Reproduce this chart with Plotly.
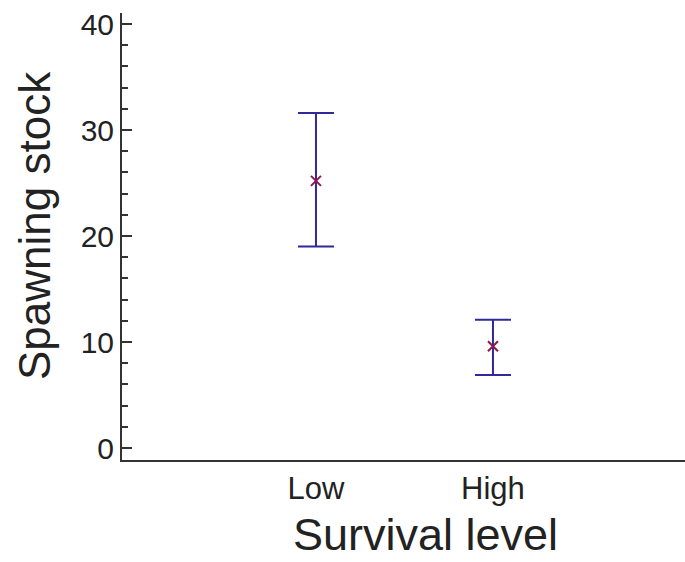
import plotly.graph_objects as go

categories = ["Low", "High"]
means = [25.2, 9.6]
upper = [31.6, 12.1]
lower = [19.0, 6.9]

xpos = [1, 2]
err_plus = [u - m for u, m in zip(upper, means)]
err_minus = [m - l for m, l in zip(means, lower)]

fig = go.Figure()
fig.add_trace(go.Scatter(
    x=xpos, y=means, mode="markers",
    marker=dict(symbol="x-thin", size=10, line=dict(color="#8b1a4a", width=2), color="#8b1a4a"),
    error_y=dict(type="data", symmetric=False, array=err_plus, arrayminus=err_minus,
                 color="#2e2a9c", thickness=2, width=18),
    showlegend=False,
))

W, H = 685, 562
l, r, t, b = 122, 0, 13, 102
pw, ph = W - l - r, H - t - b

def px2paper(x, y):
    return (x - l) / pw, 1 - (y - t) / ph

font_family = "Liberation Sans, Arial, sans-serif"
fig.update_layout(
    width=W, height=H,
    margin=dict(l=l, r=r, t=t, b=b),
    paper_bgcolor="white", plot_bgcolor="white",
    font=dict(family=font_family, color="#222"),
    xaxis=dict(
        range=[-0.096, 3.085], tickvals=xpos, ticktext=categories,
        showgrid=False, zeroline=False, ticks="",
        showline=True, linecolor="#333", linewidth=2,
        tickfont=dict(size=31, color="#222"),
    ),
    yaxis=dict(
        range=[-1.13, 41.04], tickvals=[0, 10, 20, 30, 40],
        showgrid=False, zeroline=False,
        ticks="inside", ticklen=10, tickwidth=1.5, tickcolor="#333",
        minor=dict(ticks="inside", ticklen=6, tickwidth=1.5, tickcolor="#333", dtick=2, showgrid=False),
        showline=True, linecolor="#333", linewidth=2,
        tickfont=dict(size=30, color="#222"),
    ),
)

ax, ay = px2paper(425, 561)
fig.add_annotation(text="Survival level", x=ax, y=ay, xref="paper", yref="paper",
                   showarrow=False, xanchor="center", yanchor="bottom", borderpad=0,
                   font=dict(size=45, color="#222"))
yx, yy = px2paper(34, 225)
fig.add_annotation(text="Spawning stock", x=yx, y=yy, xref="paper", yref="paper",
                   showarrow=False, textangle=-90, xanchor="center", yanchor="middle",
                   font=dict(size=44, color="#222"))

fig.write_html("out.html", config={"displayModeBar": False},
               post_script="document.body.style.margin='0';document.body.style.overflow='hidden';")
